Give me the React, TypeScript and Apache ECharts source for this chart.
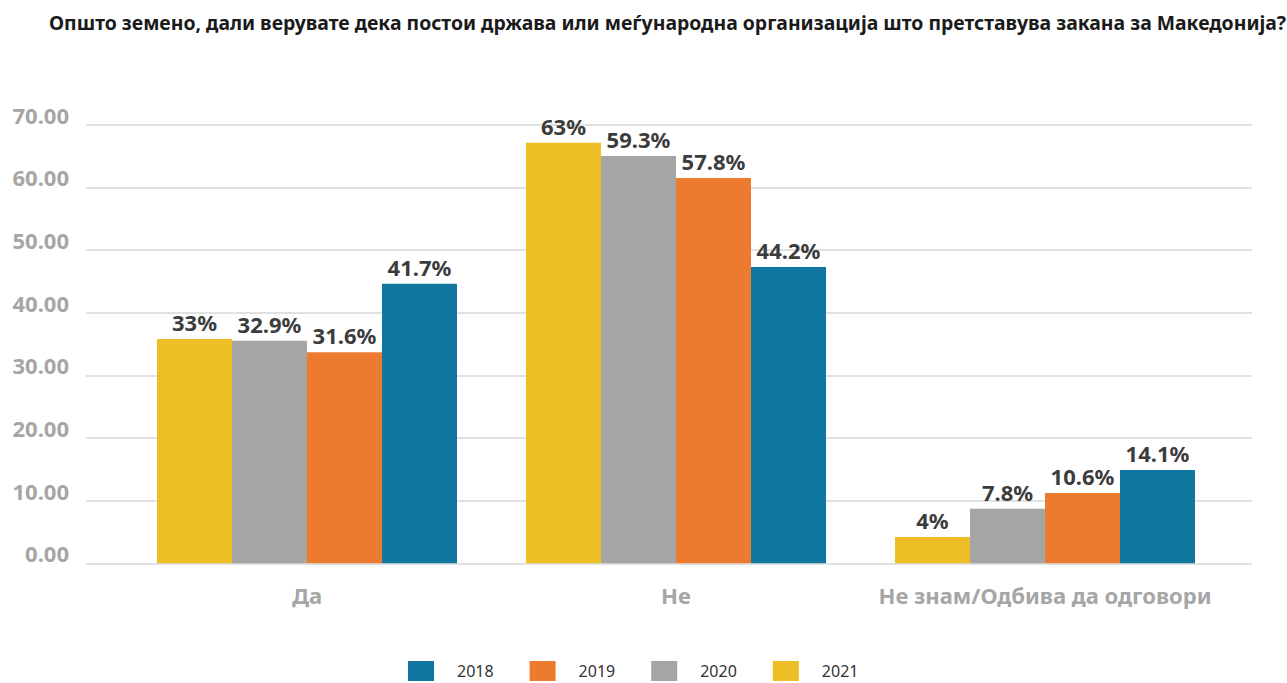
import React, { useEffect, useRef } from "react";
import * as echarts from "echarts";

const TITLE = "Општо земено, дали верувате дека постои држава или меѓународна организација што претставува закана за Македонија?";
const categories = ["Да", "Не", "Не знам/Одбива да одговори"];
const years = ["2018", "2019", "2020", "2021"];
const yTicks = [0, 10, 20, 30, 40, 50, 60, 70];

// bar heights as drawn in the picture, and the printed labels
const values2018 = [44.6, 47.3, 14.9];
const values2019 = [33.7, 61.5, 11.2];
const values2020 = [35.5, 65.0, 8.7];
const values2021 = [35.8, 67.1, 4.2];
const labels2018 = ["41.7%", "44.2%", "14.1%"];
const labels2019 = ["31.6%", "57.8%", "10.6%"];
const labels2020 = ["32.9%", "59.3%", "7.8%"];
const labels2021 = ["33%", "63%", "4%"];

const colors: Record<string, string> = {
  "2018": "#1177A0",
  "2019": "#ED7B2F",
  "2020": "#A4A5A4",
  "2021": "#EDBE25",
};

const FONT = "'Noto Sans', 'Open Sans', sans-serif";

export default function App() {
  const ref = useRef<HTMLDivElement>(null);
  useEffect(() => {
    if (!ref.current) return;
    const chart = echarts.init(ref.current, undefined, { renderer: "svg" });
    const seriesDefs = [
      { name: "2021", values: values2021, labels: labels2021 },
      { name: "2020", values: values2020, labels: labels2020 },
      { name: "2019", values: values2019, labels: labels2019 },
      { name: "2018", values: values2018, labels: labels2018 },
    ];
    const yMin = yTicks[0];
    const yMax = yTicks[yTicks.length - 1];
    const top = 124.7;
    const bottom = 683 - 563.3;
    chart.setOption({
      animation: false,
      backgroundColor: "#ffffff",
      title: {
        text: TITLE,
        left: 44,
        top: 8,
        textStyle: { fontFamily: FONT, fontSize: 19.4, fontWeight: "bold", color: "#1a1a1a" },
      },
      legend: {
        data: years,
        left: 408,
        top: 661,
        padding: 0,
        itemWidth: 26,
        itemHeight: 20,
        itemGap: 36,
        icon: "rect",
        textStyle: { fontFamily: FONT, fontSize: 16, color: "#333333", padding: [0, 0, 0, 18], lineHeight: 18 },
      },
      grid: [
        { left: 86, right: 35, top, bottom },
        { left: 122.5, right: 57.5, top, bottom },
      ],
      xAxis: [
        { type: "category", gridIndex: 0, data: categories, show: false },
        {
          type: "category",
          gridIndex: 1,
          data: categories,
          axisLine: { show: false },
          axisTick: { show: false },
          axisLabel: {
            interval: 0,
            margin: 21,
            fontFamily: FONT,
            fontSize: 22,
            fontWeight: "bold",
            color: "#A6A6A6",
          },
        },
      ],
      yAxis: [
        {
          type: "value",
          gridIndex: 0,
          min: yMin,
          max: yMax,
          interval: 10,
          axisLine: { show: false },
          axisTick: { show: false },
          splitLine: { show: true, lineStyle: { color: "#DFE2E2", width: 2 } },
          axisLabel: {
            margin: 17,
            fontFamily: FONT,
            fontSize: 22,
            fontWeight: "bold",
            color: "#A6A6A6",
            verticalAlign: "bottom",
            lineHeight: 20,
            formatter: (v: number) => v.toFixed(2),
          },
        },
        {
          type: "value",
          gridIndex: 1,
          min: yMin,
          max: yMax,
          interval: 10,
          show: false,
          splitLine: { show: false },
        },
      ],
      series: seriesDefs.map((s) => ({
        name: s.name,
        type: "bar",
        xAxisIndex: 1,
        yAxisIndex: 1,
        barWidth: 75,
        barGap: "0%",
        itemStyle: { color: colors[s.name] },
        label: {
          show: true,
          position: "top",
          distance: 6,
          fontFamily: FONT,
          fontSize: 22,
          fontWeight: "bold",
          color: "#3C3C3C",
          formatter: (p: any) => s.labels[p.dataIndex],
        },
        data: s.values,
      })),
    });
    return () => chart.dispose();
  }, []);
  return (
    <div
      ref={ref}
      style={{ position: "fixed", left: 0, top: 0, width: 1287, height: 683, background: "#fff" }}
    />
  );
}
